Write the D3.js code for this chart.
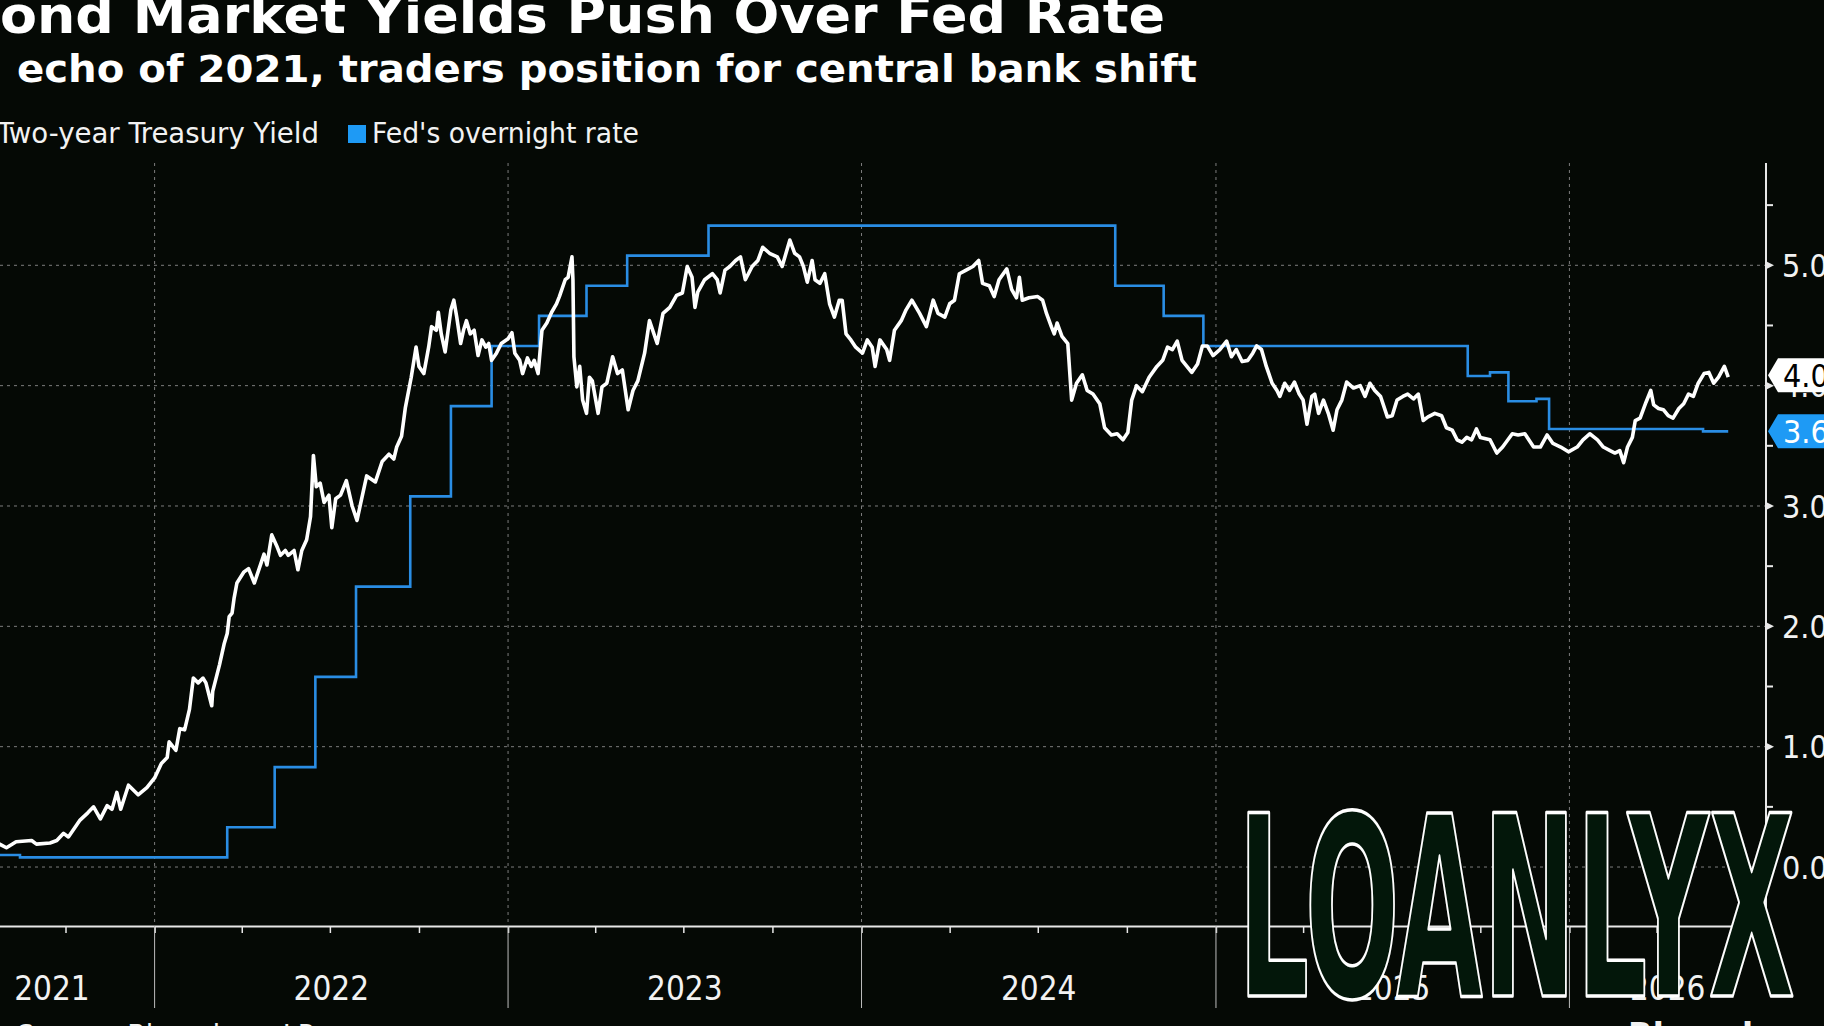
<!DOCTYPE html>
<html>
<head>
<meta charset="utf-8">
<script src="https://cdn.jsdelivr.net/npm/d3@7"></script>
<style>
  html, body { margin: 0; padding: 0; background: #050905; overflow: hidden; }
  svg { display: block; }
  .cond { font-family: "DejaVu Sans Condensed", "DejaVu Sans", sans-serif; font-stretch: condensed; }
</style>
</head>
<body>
<div id="chart"></div>
<script>
// 2-year Treasury yield
const yieldDates = [
  "2021-06-03","2021-06-17","2021-07-01","2021-07-15","2021-07-25","2021-08-01","2021-08-11","2021-08-27",
  "2021-09-01","2021-09-15","2021-09-22","2021-09-29","2021-10-04","2021-10-16","2021-10-24","2021-10-30",
  "2021-11-06","2021-11-13","2021-11-18","2021-11-23","2021-11-27","2021-12-05","2021-12-15","2021-12-24",
  "2022-01-01","2022-01-08","2022-01-14","2022-01-16","2022-01-23","2022-01-27","2022-02-01","2022-02-06",
  "2022-02-10","2022-02-15","2022-02-20","2022-02-23","2022-03-01","2022-03-02","2022-03-09","2022-03-14",
  "2022-03-17","2022-03-19","2022-03-22","2022-03-24","2022-03-27","2022-04-03","2022-04-08","2022-04-14",
  "2022-04-19","2022-04-24","2022-04-27","2022-05-02","2022-05-07","2022-05-11","2022-05-16","2022-05-19",
  "2022-05-25","2022-05-29","2022-06-02","2022-06-07","2022-06-11","2022-06-14","2022-06-17","2022-06-21",
  "2022-06-25","2022-06-30","2022-07-03","2022-07-07","2022-07-12","2022-07-18","2022-07-24","2022-07-29",
  "2022-08-02","2022-08-08","2022-08-17","2022-08-24","2022-08-31","2022-09-05","2022-09-08","2022-09-13",
  "2022-09-17","2022-09-23","2022-09-28","2022-10-01","2022-10-06","2022-10-11","2022-10-14","2022-10-19",
  "2022-10-21","2022-10-24","2022-10-28","2022-11-03","2022-11-06","2022-11-09","2022-11-13","2022-11-16",
  "2022-11-19","2022-11-23","2022-11-27","2022-12-01","2022-12-05","2022-12-09","2022-12-12","2022-12-15",
  "2022-12-20","2022-12-25","2023-01-01","2023-01-05","2023-01-08","2023-01-13","2023-01-16","2023-01-21",
  "2023-01-25","2023-01-28","2023-02-01","2023-02-05","2023-02-10","2023-02-15","2023-02-20","2023-02-23",
  "2023-03-01","2023-03-04","2023-03-08","2023-03-09","2023-03-10","2023-03-13","2023-03-16","2023-03-19",
  "2023-03-23","2023-03-26","2023-03-29","2023-04-04","2023-04-08","2023-04-13","2023-04-19","2023-04-24",
  "2023-04-29","2023-05-05","2023-05-10","2023-05-15","2023-05-22","2023-05-27","2023-06-04","2023-06-10",
  "2023-06-17","2023-06-24","2023-06-30","2023-07-05","2023-07-10","2023-07-13","2023-07-16","2023-07-23",
  "2023-07-31","2023-08-05","2023-08-08","2023-08-13","2023-08-18","2023-08-24","2023-08-29","2023-09-03",
  "2023-09-10","2023-09-16","2023-09-21","2023-09-28","2023-10-06","2023-10-11","2023-10-19","2023-10-24",
  "2023-10-29","2023-11-02","2023-11-06","2023-11-11","2023-11-14","2023-11-19","2023-11-24","2023-11-29",
  "2023-12-04","2023-12-09","2023-12-12","2023-12-16","2023-12-21","2023-12-26","2024-01-02","2024-01-07",
  "2024-01-12","2024-01-15","2024-01-20","2024-01-27","2024-01-30","2024-02-04","2024-02-11","2024-02-16",
  "2024-02-22","2024-03-01","2024-03-08","2024-03-15","2024-03-20","2024-03-27","2024-04-01","2024-04-06",
  "2024-04-11","2024-04-18","2024-04-25","2024-05-01","2024-05-05","2024-05-12","2024-05-17","2024-05-22",
  "2024-05-30","2024-06-04","2024-06-09","2024-06-12","2024-06-15","2024-06-22","2024-07-01","2024-07-06",
  "2024-07-10","2024-07-15","2024-07-18","2024-07-21","2024-07-26","2024-08-01","2024-08-05","2024-08-10",
  "2024-08-16","2024-08-21","2024-08-27","2024-09-03","2024-09-08","2024-09-15","2024-09-21","2024-09-27",
  "2024-10-02","2024-10-06","2024-10-11","2024-10-17","2024-10-24","2024-11-01","2024-11-07","2024-11-12",
  "2024-11-17","2024-11-22","2024-11-27","2024-12-07","2024-12-13","2024-12-18","2024-12-23","2024-12-29",
  "2025-01-05","2025-01-12","2025-01-17","2025-01-22","2025-01-28","2025-02-03","2025-02-08","2025-02-12",
  "2025-02-17","2025-02-22","2025-02-28","2025-03-05","2025-03-08","2025-03-13","2025-03-18","2025-03-23",
  "2025-03-28","2025-04-01","2025-04-05","2025-04-10","2025-04-13","2025-04-17","2025-04-22","2025-04-27",
  "2025-05-02","2025-05-06","2025-05-11","2025-05-16","2025-05-23","2025-05-30","2025-06-04","2025-06-09",
  "2025-06-14","2025-06-20","2025-06-27","2025-07-02","2025-07-07","2025-07-13","2025-07-18","2025-07-24",
  "2025-07-29","2025-08-03","2025-08-08","2025-08-15","2025-08-22","2025-08-27","2025-09-02","2025-09-07",
  "2025-09-12","2025-09-17","2025-09-22","2025-09-27","2025-10-01","2025-10-11","2025-10-18","2025-10-24",
  "2025-11-03","2025-11-09","2025-11-16","2025-11-25","2025-12-02","2025-12-09","2025-12-15","2025-12-23",
  "2025-12-31","2026-01-09","2026-01-15","2026-01-22","2026-01-30","2026-02-05","2026-02-12","2026-02-17",
  "2026-02-22","2026-02-26","2026-03-02","2026-03-07","2026-03-10","2026-03-15","2026-03-21","2026-03-26",
  "2026-03-29","2026-04-03","2026-04-08","2026-04-13","2026-04-18","2026-04-24","2026-04-29","2026-05-04",
  "2026-05-09","2026-05-14","2026-05-20","2026-05-25","2026-05-30","2026-06-04","2026-06-10","2026-06-14"
];
const yieldValues = [
  0.15,0.21,0.25,0.22,0.19,0.16,0.21,0.22,
  0.19,0.20,0.22,0.28,0.25,0.39,0.45,0.50,
  0.40,0.51,0.48,0.62,0.48,0.68,0.60,0.66,
  0.74,0.86,0.91,1.04,0.97,1.15,1.14,1.31,
  1.57,1.53,1.57,1.53,1.34,1.46,1.68,1.86,
  1.94,2.08,2.11,2.23,2.36,2.45,2.48,2.36,
  2.48,2.60,2.51,2.76,2.67,2.59,2.63,2.59,
  2.63,2.47,2.63,2.72,2.91,3.42,3.16,3.19,
  3.03,3.09,2.82,3.06,3.09,3.21,3.00,2.88,
  3.03,3.25,3.20,3.37,3.43,3.39,3.49,3.58,
  3.82,4.07,4.32,4.16,4.10,4.32,4.49,4.46,
  4.61,4.43,4.28,4.63,4.71,4.57,4.35,4.46,
  4.54,4.43,4.46,4.25,4.38,4.32,4.35,4.21,
  4.27,4.35,4.39,4.44,4.27,4.21,4.10,4.23,
  4.16,4.21,4.10,4.46,4.52,4.61,4.68,4.74,
  4.88,4.90,5.07,4.88,4.24,3.99,4.16,3.88,
  3.77,4.07,4.04,3.77,3.99,4.02,4.24,4.10,
  4.13,3.80,3.96,4.04,4.27,4.54,4.35,4.60,
  4.65,4.75,4.77,4.99,4.90,4.65,4.78,4.88,
  4.93,4.88,4.77,4.96,4.99,5.04,5.07,4.88,
  4.99,5.04,5.15,5.10,5.07,4.99,5.21,5.10,
  5.07,4.99,4.86,5.04,4.88,4.85,4.93,4.68,
  4.57,4.71,4.71,4.43,4.38,4.32,4.27,4.38,
  4.32,4.16,4.38,4.30,4.21,4.46,4.54,4.63,
  4.71,4.60,4.49,4.71,4.60,4.57,4.68,4.71,
  4.93,4.96,4.99,5.04,4.85,4.83,4.74,4.88,
  4.97,4.80,4.73,4.90,4.71,4.73,4.74,4.71,
  4.60,4.49,4.43,4.52,4.41,4.35,3.88,4.02,
  4.09,3.96,3.93,3.85,3.65,3.59,3.60,3.55,
  3.61,3.88,4.00,3.95,4.07,4.16,4.21,4.32,
  4.30,4.37,4.21,4.11,4.18,4.33,4.33,4.25,
  4.30,4.37,4.24,4.30,4.20,4.21,4.27,4.33,
  4.30,4.16,4.02,3.96,3.91,4.02,3.96,4.03,
  3.93,3.88,3.68,3.91,3.93,3.77,3.88,3.77,
  3.63,3.80,3.88,4.03,3.98,4.00,3.91,4.02,
  3.96,3.91,3.74,3.75,3.88,3.91,3.93,3.89,
  3.93,3.71,3.74,3.77,3.75,3.65,3.63,3.55,
  3.53,3.57,3.55,3.64,3.57,3.55,3.44,3.49,
  3.60,3.59,3.60,3.49,3.49,3.59,3.52,3.49,
  3.45,3.49,3.55,3.60,3.55,3.49,3.46,3.44,
  3.46,3.36,3.49,3.57,3.71,3.73,3.86,3.96,
  3.84,3.81,3.80,3.75,3.73,3.81,3.85,3.93,
  3.91,4.02,4.10,4.11,4.02,4.07,4.16,4.07
];

// Fed's overnight rate (steps)
const fedDates = [
  "2021-06-03","2021-08-15","2022-03-17","2022-05-05","2022-06-16","2022-07-28","2022-09-22",
  "2022-11-03","2022-12-15","2023-02-02","2023-03-23","2023-05-04","2023-07-27","2024-09-19",
  "2024-11-08","2024-12-19","2025-09-18","2025-10-11","2025-10-30","2025-11-28","2025-12-11",
  "2026-05-19","2026-06-14"
];
const fedValues = [
  0.10,0.08,0.33,0.83,1.58,2.33,3.08,
  3.83,4.33,4.58,4.83,5.08,5.33,4.83,
  4.58,4.33,4.08,4.11,3.87,3.89,3.64,
  3.62,3.62
];

const yTicks = [0, 1, 2, 3, 4, 5];
const yMinorTicks = [0.5, 1.5, 2.5, 3.5, 4.5, 5.5];
const years = [2021, 2022, 2023, 2024, 2025, 2026];
const lastYieldLabel = "4.08";
const lastFedLabel = "3.62";

const W = 1824, H = 1026;
const plot = {left: -50.7, right: 1766, top: 163, bottom: 926};
const gridColor = "#7d7d7d";
const blue = "#2a8de4";

const parse = d3.utcParse("%Y-%m-%d");
let yieldData = yieldDates.map(function(d, i) { return {date: parse(d), value: yieldValues[i]}; });
let fedData = fedDates.map(function(d, i) { return {date: parse(d), value: fedValues[i]}; });

let x = d3.scaleUtc()
    .domain([parse("2021-06-03"), parse("2026-07-23")])
    .range([plot.left, plot.right]);

let y = d3.scaleLinear()
    .domain([-0.49, 5.85])
    .range([plot.bottom, plot.top]);

let svg = d3.select("#chart")
    .append("svg")
    .attr("width", W)
    .attr("height", H);

svg.append("rect")
    .attr("width", W)
    .attr("height", H)
    .attr("fill", "#050905");

// gridlines
let grid = svg.append("g");
grid.selectAll(".hgrid").data(yTicks).enter()
    .append("line")
    .attr("x1", 0).attr("x2", plot.right)
    .attr("y1", function(d) { return y(d); })
    .attr("y2", function(d) { return y(d); })
    .attr("stroke", gridColor)
    .attr("stroke-dasharray", "3,4");

let yearStarts = years.slice(1).map(function(yr) { return new Date(Date.UTC(yr, 0, 1)); });
grid.selectAll(".vgrid").data(yearStarts).enter()
    .append("line")
    .attr("x1", function(d) { return x(d); })
    .attr("x2", function(d) { return x(d); })
    .attr("y1", plot.top).attr("y2", plot.bottom)
    .attr("stroke", gridColor)
    .attr("stroke-dasharray", "3,4");

// x axis: quarter ticks + year separators
let xAxis = svg.append("g")
    .attr("transform", `translate(0, ${plot.bottom})`)
    .call(d3.axisBottom(x).ticks(d3.utcMonth.every(3)).tickSize(7).tickFormat(""));
xAxis.select(".domain").attr("stroke", "#e8e8e8").attr("stroke-width", 2);
xAxis.selectAll(".tick line").attr("stroke", "#e8e8e8").attr("stroke-width", 1.5);

svg.append("g").selectAll("line").data(yearStarts).enter()
    .append("line")
    .attr("x1", function(d) { return x(d); })
    .attr("x2", function(d) { return x(d); })
    .attr("y1", plot.bottom).attr("y2", 1008)
    .attr("stroke", "#bdbdbd")
    .attr("stroke-width", 1);

svg.append("g").selectAll("text").data(years).enter()
    .append("text")
    .attr("class", "cond")
    .attr("x", function(yr) {
        let a = Math.max(x(new Date(Date.UTC(yr, 0, 1))), plot.left);
        let b = Math.min(x(new Date(Date.UTC(yr + 1, 0, 1))), plot.right);
        return (a + b) / 2;
    })
    .attr("y", 1000)
    .attr("fill", "#f2f2f2")
    .style("font-size", "33px")
    .style("text-anchor", "middle")
    .text(function(d) { return d; });

// lines
svg.append("path")
    .datum(fedData)
    .attr("fill", "none")
    .attr("stroke", blue)
    .attr("stroke-width", 2.6)
    .attr("d", d3.line()
        .curve(d3.curveStepAfter)
        .x(function(d) { return x(d.date); })
        .y(function(d) { return y(d.value); }));

svg.append("path")
    .datum(yieldData)
    .attr("fill", "none")
    .attr("stroke", "#ffffff")
    .attr("stroke-width", 3.6)
    .attr("stroke-linejoin", "round")
    .attr("d", d3.line()
        .x(function(d) { return x(d.date); })
        .y(function(d) { return y(d.value); }));

// right y axis
svg.append("line")
    .attr("x1", plot.right).attr("x2", plot.right)
    .attr("y1", plot.top).attr("y2", plot.bottom)
    .attr("stroke", "#e8e8e8").attr("stroke-width", 2);

svg.append("g").selectAll("path").data(yTicks).enter()
    .append("path")
    .attr("d", function(d) { let t = y(d); return `M${plot.right},${t - 4}L${plot.right + 8},${t}L${plot.right},${t + 4}Z`; })
    .attr("fill", "#e8e8e8");

svg.append("g").selectAll("line").data(yMinorTicks).enter()
    .append("line")
    .attr("x1", plot.right).attr("x2", plot.right + 7)
    .attr("y1", function(d) { return y(d); })
    .attr("y2", function(d) { return y(d); })
    .attr("stroke", "#e8e8e8").attr("stroke-width", 2);

svg.append("g").selectAll("text").data(yTicks).enter()
    .append("text")
    .attr("class", "cond")
    .attr("x", 1782)
    .attr("y", function(d) { return y(d); })
    .attr("dy", "0.36em")
    .attr("fill", "#f2f2f2")
    .style("font-size", "32px")
    .text(function(d) { return d3.format(".1f")(d); });

// last value callouts
function callout(cy, bg, fg, label) {
    let g = svg.append("g");
    g.append("path")
        .attr("d", `M1768,${cy}L1778,${cy - 17}L1830,${cy - 17}L1830,${cy + 17}L1778,${cy + 17}Z`)
        .attr("fill", bg);
    g.append("text")
        .attr("class", "cond")
        .attr("x", 1783)
        .attr("y", cy)
        .attr("dy", "0.36em")
        .attr("fill", fg)
        .style("font-size", "32px")
        .text(label);
}
callout(y(yieldData[yieldData.length - 1].value) - 2, "#ffffff", "#000000", lastYieldLabel);
callout(y(fedData[fedData.length - 1].value), "#1e9af5", "#ffffff", lastFedLabel);

// titles & legend
svg.append("text")
    .attr("x", 0).attr("y", 33)
    .attr("fill", "#ffffff")
    .attr("textLength", 1165).attr("lengthAdjust", "spacingAndGlyphs")
    .style("font-family", "'DejaVu Sans', sans-serif")
    .style("font-weight", "bold")
    .style("font-size", "51px")
    .text("ond Market Yields Push Over Fed Rate");

svg.append("text")
    .attr("x", 17).attr("y", 82)
    .attr("fill", "#ffffff")
    .attr("textLength", 1180).attr("lengthAdjust", "spacingAndGlyphs")
    .style("font-family", "'DejaVu Sans', sans-serif")
    .style("font-weight", "bold")
    .style("font-size", "37px")
    .text("echo of 2021, traders position for central bank shift");

svg.append("text")
    .attr("class", "cond")
    .attr("x", -3).attr("y", 143)
    .attr("fill", "#f2f2f2")
    .attr("textLength", 322).attr("lengthAdjust", "spacingAndGlyphs")
    .style("font-size", "28px")
    .text("Two-year Treasury Yield");

svg.append("rect")
    .attr("x", 348).attr("y", 125)
    .attr("width", 18).attr("height", 18)
    .attr("fill", "#1e9af5");

svg.append("text")
    .attr("class", "cond")
    .attr("x", 372).attr("y", 143)
    .attr("fill", "#f2f2f2")
    .attr("textLength", 267).attr("lengthAdjust", "spacingAndGlyphs")
    .style("font-size", "28px")
    .text("Fed's overnight rate");

// footer (mostly cut off)
svg.append("text")
    .attr("class", "cond")
    .attr("x", 314).attr("y", 1046)
    .attr("fill", "#f2f2f2")
    .style("font-size", "30px")
    .style("text-anchor", "end")
    .text("Source: Bloomberg LP");

svg.append("text")
    .attr("class", "cond")
    .attr("x", 1628).attr("y", 1048)
    .attr("fill", "#f2f2f2")
    .style("font-size", "36px")
    .style("font-weight", "bold")
    .text("Bloomberg");

// watermark
svg.append("text")
    .attr("x", 1238).attr("y", 996)
    .attr("textLength", 557).attr("lengthAdjust", "spacingAndGlyphs")
    .attr("fill", "#03170a")
    .attr("stroke", "#ffffff")
    .attr("stroke-width", 3.5)
    .attr("stroke-linejoin", "round")
    .style("font-family", "'Liberation Sans Narrow', 'DejaVu Sans Condensed', sans-serif")
    .style("font-weight", "bold")
    .style("font-size", "252px")
    .text("LOANLYX");
</script>
</body>
</html>
